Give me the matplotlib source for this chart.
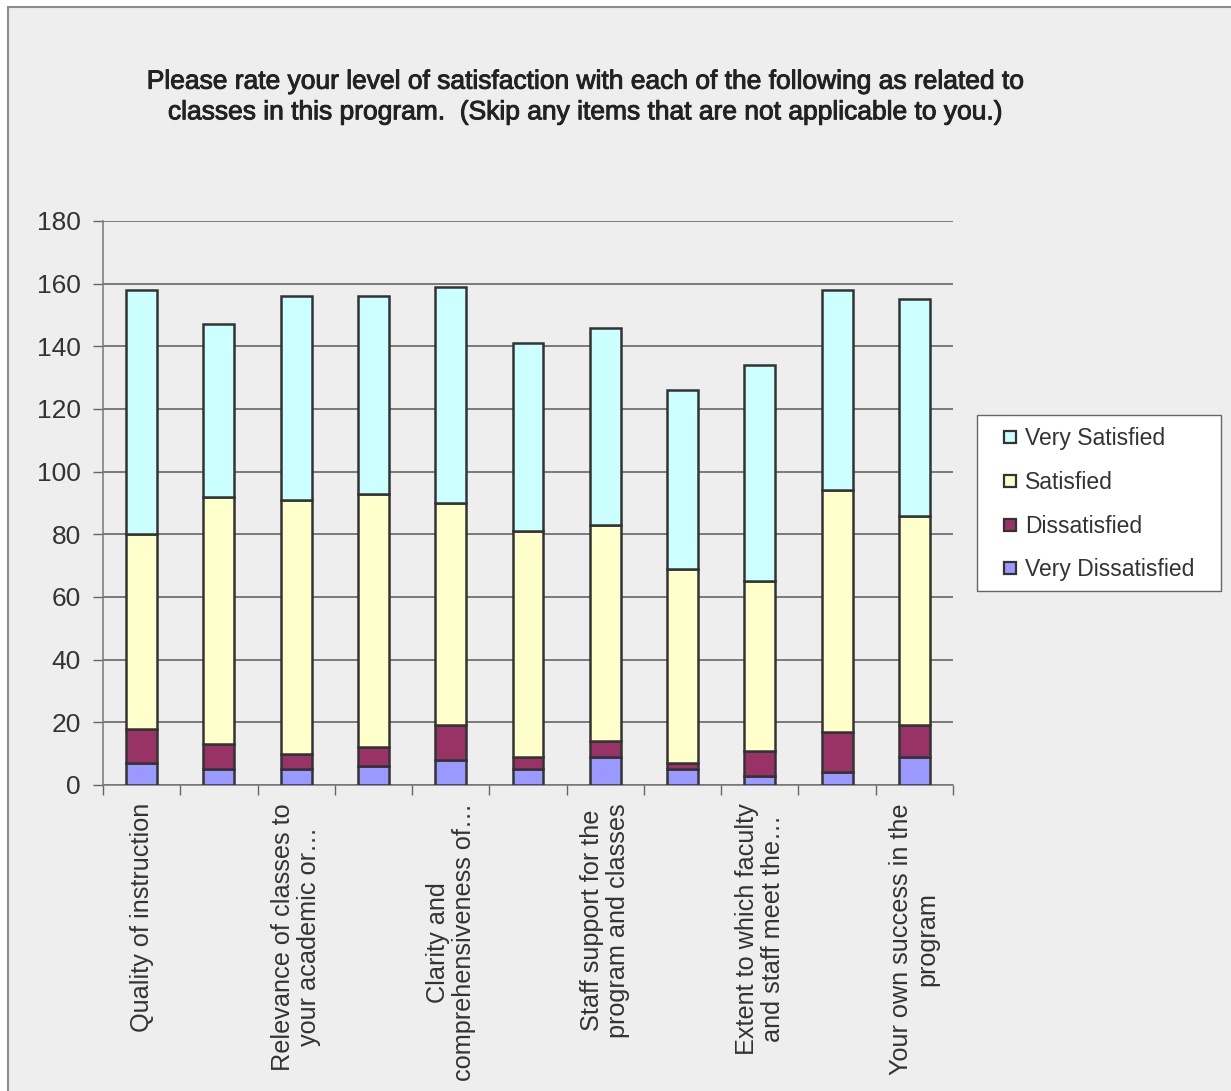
import matplotlib
matplotlib.use("Agg")
import matplotlib.pyplot as plt
import matplotlib.patheffects as pe
from matplotlib.patches import Rectangle
from matplotlib.lines import Line2D
import numpy as np

plt.rcParams['font.family'] = ['Liberation Sans', 'DejaVu Sans']

# Survey items (only every other item carries a visible axis label)
categories = [
    "Quality of instruction",
    "",
    "Relevance of classes to\nyour academic or…",
    "",
    "Clarity and\ncomprehensiveness of…",
    "",
    "Staff support for the\nprogram and classes",
    "",
    "Extent to which faculty\nand staff meet the…",
    "",
    "Your own success in the\nprogram",
]

very_dissatisfied = [7, 5, 5, 6, 8, 5, 9, 5, 3, 4, 9]
dissatisfied      = [11, 8, 5, 6, 11, 4, 5, 2, 8, 13, 10]
satisfied         = [62, 79, 81, 81, 71, 72, 69, 62, 54, 77, 67]
very_satisfied    = [78, 55, 65, 63, 69, 60, 63, 57, 69, 64, 69]

series_names = ["Very Dissatisfied", "Dissatisfied", "Satisfied", "Very Satisfied"]
series_colors = ["#9999FF", "#993366", "#FFFFCC", "#CCFFFF"]
y_ticks = [0, 20, 40, 60, 80, 100, 120, 140, 160, 180]

title = ("Please rate your level of satisfaction with each of the following as related to\n"
         "classes in this program.  (Skip any items that are not applicable to you.)")

W, H = 1231, 1091
fig = plt.figure(figsize=(W / 100, H / 100), dpi=100)
fig.patch.set_facecolor("white")

# chart area panel with its gray frame
fig.patches.append(Rectangle((8 / W, -0.05), 1.2, 1 - 7 / H + 0.05,
                             transform=fig.transFigure, facecolor="#EEEEEE",
                             edgecolor="#8C8C8C", linewidth=1.5, zorder=-10))

left, right = 103 / W, 953 / W
bottom, top = 1 - 785 / H, 1 - 221 / H
ax = fig.add_axes([left, bottom, right - left, top - bottom])
ax.set_facecolor("none")

x = np.arange(len(categories))
stack = [very_dissatisfied, dissatisfied, satisfied, very_satisfied]
base = np.zeros(len(categories))
for vals, name, col in zip(stack, series_names, series_colors):
    vals = np.asarray(vals, dtype=float)
    ax.bar(x, vals, width=0.4, bottom=base, color=col, edgecolor="#333333",
           linewidth=1.8, label=name, zorder=3)
    base += vals

ax.set_xlim(-0.5, len(categories) - 0.5)
ax.set_ylim(0, 180)
ax.set_yticks(y_ticks)
ax.set_yticklabels([str(v) for v in y_ticks], fontsize=19, color="#333333")
ax.yaxis.grid(True, color="#5A5A5A", linewidth=1.1, zorder=0)
ax.set_axisbelow(True)

ax.set_xticks(x)
ax.set_xticklabels(categories, rotation=90, fontsize=18.2, color="#333333",
                   ha="center", va="top", multialignment="center",
                   linespacing=1.1)
ax.set_xticks(np.arange(-0.5, len(categories)), minor=True)
ax.tick_params(axis="x", which="major", length=0, pad=13)
ax.tick_params(axis="x", which="minor", length=7, width=1, color="#666666")
ax.tick_params(axis="y", length=7, width=1, color="#666666", pad=9)

for s in ["top", "right"]:
    ax.spines[s].set_visible(False)
for s in ["left", "bottom"]:
    ax.spines[s].set_color("#777777")
    ax.spines[s].set_linewidth(1.1)

fig.text(586 / W, 1 - 97 / H, title, ha="center", va="center", fontsize=19,
         color="#222222", linespacing=1.35, fontweight="normal",
         path_effects=[pe.withStroke(linewidth=0.7, foreground="#222222")])

# legend box
fig.patches.append(Rectangle((977 / W, 1 - 591 / H), (1221 - 977) / W, (591 - 415) / H,
                             transform=fig.transFigure, facecolor="white",
                             edgecolor="#666666", linewidth=1.0, zorder=5))
leg_handles = [Line2D([], [], linestyle="none", marker="s", markersize=8.5,
                      markerfacecolor=c, markeredgecolor="#333333", markeredgewidth=1.6)
               for c in series_colors[::-1]]
leg = fig.legend(leg_handles, series_names[::-1], loc="upper left",
                 bbox_to_anchor=(977 / W, 1 - 417 / H), bbox_transform=fig.transFigure,
                 fontsize=16.5, frameon=False, handlelength=2.0,
                 handletextpad=-0.35, labelspacing=0.9,
                 borderpad=0.45, borderaxespad=0)
leg.set_zorder(6)
for t in leg.get_texts():
    t.set_color("#333333")

fig.savefig("out.png", dpi=100, facecolor=fig.get_facecolor())
